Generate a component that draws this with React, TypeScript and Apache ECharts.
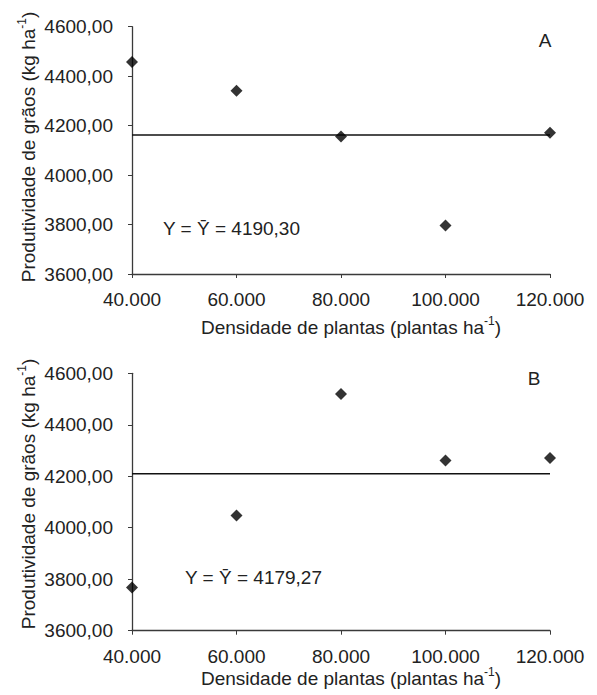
import React, { useEffect, useRef } from "react";
import * as echarts from "echarts";

const densities = [40000, 60000, 80000, 100000, 120000];
const yieldA = [4457, 4341, 4156, 3796, 4171];
const yieldB = [3768, 4048, 4520, 4261, 4271];
const meanLineA = 4162;
const meanLineB = 4210;
const eqA = "Y = Ȳ = 4190,30";
const eqB = "Y = Ȳ = 4179,27";
const yTicks = { min: 3600, max: 4600, interval: 200 };
const xTicks = { min: 40000, max: 120000, interval: 20000 };

const FONT = "'Liberation Sans', Arial, sans-serif";
const AXIS_COLOR = "#3a3a3a";

export default function App() {
  const ref = useRef<HTMLDivElement>(null);
  useEffect(() => {
    if (!ref.current) return;
    const chart = echarts.init(ref.current, null, { renderer: "svg" });
    const fmtY = (v: number) => v.toFixed(2).replace(".", ",");
    const fmtX = (v: number) => (v / 1000).toFixed(0) + ".000";
    const grids = [
      { left: 132, top: 26.7, width: 418, height: 247.3 },
      { left: 132, top: 373.3, width: 418, height: 257.4 },
    ];
    const xAxisBase = (gi: number) => ({
      type: "value",
      gridIndex: gi,
      min: xTicks.min,
      max: xTicks.max,
      interval: xTicks.interval,
      axisLine: { show: true, lineStyle: { color: AXIS_COLOR, width: 1.3 } },
      axisTick: { show: true, length: 4, inside: false, lineStyle: { color: AXIS_COLOR } },
      splitLine: { show: false },
      axisLabel: { formatter: fmtX, fontSize: 19, color: "#222", fontFamily: FONT, margin: 16 },
    });
    const yAxisBase = (gi: number) => ({
      type: "value",
      gridIndex: gi,
      min: yTicks.min,
      max: yTicks.max,
      interval: yTicks.interval,
      axisLine: { show: true, lineStyle: { color: AXIS_COLOR, width: 1.3 } },
      axisTick: { show: true, length: 4, inside: false, lineStyle: { color: AXIS_COLOR } },
      splitLine: { show: false },
      axisLabel: { formatter: fmtY, fontSize: 19, color: "#222", fontFamily: FONT, margin: 19 },
    });
    const pts = (ys: number[]) => densities.map((d, i) => [d, ys[i]]);
    const meanLine = (v: number) => [[xTicks.min, v], [xTicks.max, v]];
    const rich = {
      n: { fontSize: 19, fontFamily: FONT, fill: "#222", lineHeight: 24 },
      s: { fontSize: 12, fontFamily: FONT, fill: "#222", verticalAlign: "top", lineHeight: 24 },
    };
    const ytitle = (y: number) => ({
      type: "text",
      x: 28,
      y,
      rotation: Math.PI / 2,
      style: {
        text: "{n|Produtividade de grãos (kg ha}{s|-1}{n|)}",
        rich,
        align: "center",
        verticalAlign: "middle",
        fill: "#222",
      },
    });
    const xtitle = (y: number) => ({
      type: "text",
      x: 351,
      y,
      style: {
        text: "{n|Densidade de plantas (plantas ha}{s|-1}{n|)}",
        rich,
        align: "center",
        verticalAlign: "middle",
        fill: "#222",
      },
    });
    const plainText = (x: number, y: number, text: string, align = "left") => ({
      type: "text",
      x,
      y,
      style: { text, fontSize: 19, fontFamily: FONT, fill: "#222", align, verticalAlign: "middle" },
    });
    chart.setOption({
      animation: false,
      backgroundColor: "#fff",
      grid: grids,
      xAxis: [xAxisBase(0), xAxisBase(1)],
      yAxis: [yAxisBase(0), yAxisBase(1)],
      series: [
        {
          type: "line",
          xAxisIndex: 0,
          yAxisIndex: 0,
          data: meanLine(meanLineA),
          symbol: "none",
          lineStyle: { color: "#111", width: 1.5 },
          z: 1,
        },
        {
          type: "scatter",
          xAxisIndex: 0,
          yAxisIndex: 0,
          data: pts(yieldA),
          symbol: "diamond",
          symbolSize: 12,
          itemStyle: { color: "#000" },
          z: 3,
        },
        {
          type: "line",
          xAxisIndex: 1,
          yAxisIndex: 1,
          data: meanLine(meanLineB),
          symbol: "none",
          lineStyle: { color: "#111", width: 1.5 },
          z: 1,
        },
        {
          type: "scatter",
          xAxisIndex: 1,
          yAxisIndex: 1,
          data: pts(yieldB),
          symbol: "diamond",
          symbolSize: 12,
          itemStyle: { color: "#000" },
          z: 3,
        },
      ],
      graphic: [
        ytitle(147),
        ytitle(494),
        xtitle(327),
        xtitle(678),
        plainText(163, 228, eqA),
        plainText(185, 577, eqB),
        plainText(545, 40, "A", "center"),
        plainText(534, 378, "B", "center"),
      ],
    });
    return () => chart.dispose();
  }, []);
  return <div ref={ref} style={{ width: 597, height: 695, position: "absolute", left: 0, top: 0 }} />;
}
